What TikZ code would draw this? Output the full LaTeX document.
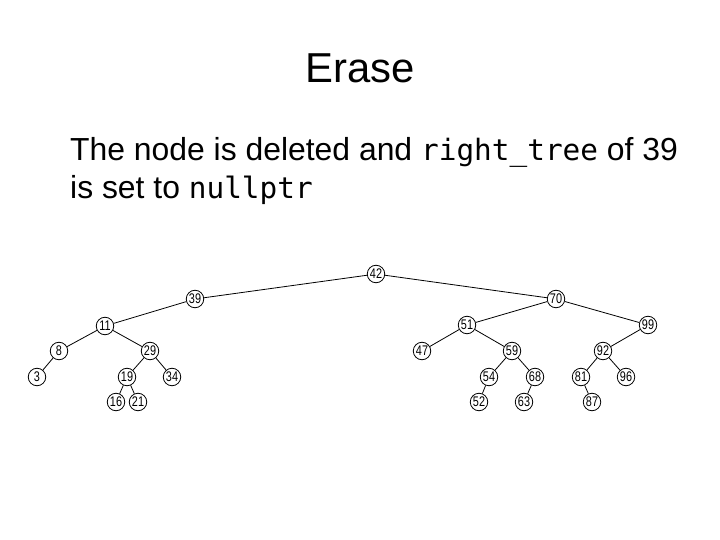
\documentclass[tikz,border=0pt]{standalone}
\usepackage{fontspec}
\setmainfont{Liberation Sans}
\newfontfamily\codefont{DejaVu Sans Mono}
\newfontfamily\numfont[FakeStretch=0.78]{Liberation Sans}
\begin{document}
\begin{tikzpicture}[x=1bp,y=-1bp,
  tn/.style={circle,draw,line width=0.8bp,minimum size=17.5bp,inner sep=0pt,font=\numfont\fontsize{14}{14}\selectfont},
  edge/.style={line width=0.8bp}]
\useasboundingbox[fill=white] (0,0) rectangle (720,540);
\node[anchor=base] (title) at (360,83) {\fontsize{42}{48}\selectfont Erase};
\node[anchor=base west,inner sep=0pt] (l1) at (70,161) {\fontsize{32}{36}\selectfont The node is deleted and {\codefont\fontsize{29.5}{36}\selectfont right\_tree} of 39};
\node[anchor=base west,inner sep=0pt] (l2) at (70,199) {\fontsize{32}{36}\selectfont is set to {\codefont\fontsize{29.5}{36}\selectfont nullptr}};
% nodes
\node[tn] (n42) at (376,274) {42};
\node[tn] (n39) at (195,299) {39};
\node[tn] (n70) at (556,299) {70};
\node[tn] (n11) at (105,326) {11};
\node[tn] (n8) at (59,351) {8};
\node[tn] (n29) at (150,351) {29};
\node[tn] (n3) at (37,377) {3};
\node[tn] (n19) at (127,377) {19};
\node[tn] (n34) at (172,377) {34};
\node[tn] (n16) at (116,402) {16};
\node[tn] (n21) at (138,402) {21};
\node[tn] (n51) at (467,325) {51};
\node[tn] (n99) at (648,325) {99};
\node[tn] (n47) at (422,351) {47};
\node[tn] (n59) at (512,351) {59};
\node[tn] (n92) at (603,351) {92};
\node[tn] (n54) at (489,377) {54};
\node[tn] (n68) at (535,377) {68};
\node[tn] (n81) at (581,377) {81};
\node[tn] (n96) at (626,377) {96};
\node[tn] (n52) at (479,402) {52};
\node[tn] (n63) at (524,402) {63};
\node[tn] (n87) at (592,402) {87};
% edges
\draw[edge] (n42) -- (n39);
\draw[edge] (n42) -- (n70);
\draw[edge] (n39) -- (n11);
\draw[edge] (n11) -- (n8);
\draw[edge] (n11) -- (n29);
\draw[edge] (n8) -- (n3);
\draw[edge] (n29) -- (n19);
\draw[edge] (n29) -- (n34);
\draw[edge] (n19) -- (n16);
\draw[edge] (n19) -- (n21);
\draw[edge] (n70) -- (n51);
\draw[edge] (n70) -- (n99);
\draw[edge] (n51) -- (n47);
\draw[edge] (n51) -- (n59);
\draw[edge] (n59) -- (n54);
\draw[edge] (n59) -- (n68);
\draw[edge] (n54) -- (n52);
\draw[edge] (n68) -- (n63);
\draw[edge] (n99) -- (n92);
\draw[edge] (n92) -- (n81);
\draw[edge] (n92) -- (n96);
\draw[edge] (n81) -- (n87);
\end{tikzpicture}
\end{document}
